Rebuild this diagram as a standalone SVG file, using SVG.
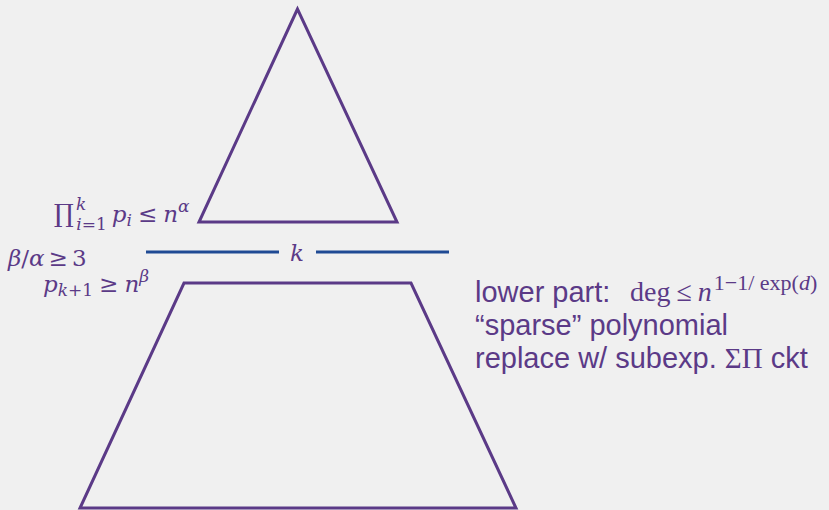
<svg xmlns="http://www.w3.org/2000/svg" width="829" height="510" viewBox="0 0 829 510">
<style>
.shape{fill:none;stroke:#5b3a87;stroke-width:3;stroke-linejoin:miter}
.sep{stroke:#1f4a94;stroke-width:3}
.m{font-family:"DejaVu Serif","Liberation Serif",serif;fill:#5b3a87;font-size:23px}
.r{font-family:"Liberation Serif","DejaVu Serif",serif;fill:#5b3a87}
.i{font-style:italic}
.t{font-family:"Liberation Sans",Arial,sans-serif;fill:#5b3a87;font-size:29px}
</style>
<rect width="829" height="510" fill="#f0f0f0"/>
<g id="upper">
<polygon class="shape" points="297.5,9 199,222 397,222"/>
</g>
<g id="lower">
<polygon class="shape" points="184,283 411,283 516,508 80,508"/>
</g>
<g id="connectors">
<line class="sep" x1="146" y1="252" x2="279" y2="252"/>
<line class="sep" x1="316" y1="252" x2="449" y2="252"/>
</g>
<g id="labels">
<text class="m" x="290" y="261"><tspan class="i">k</tspan></text>
<text class="m" x="54" y="222"><tspan font-size="25">∏</tspan><tspan class="i" font-size="17" dx="2" dy="-12">k</tspan><tspan class="i" font-size="17" dx="-10" dy="20">i</tspan><tspan font-size="17">=1</tspan><tspan class="i" dx="5" dy="-8">p</tspan><tspan class="i" font-size="17" dy="4">i</tspan><tspan dx="6" dy="-4">≤</tspan><tspan class="i" dx="6">n</tspan><tspan class="i" font-size="17" dy="-10">α</tspan></text>
<text class="m" x="8" y="266"><tspan class="i">β</tspan>/<tspan class="i">α</tspan><tspan dx="4">≥</tspan><tspan dx="4">3</tspan></text>
<text class="m" x="43" y="292"><tspan class="i">p</tspan><tspan class="i" font-size="17" dy="4">k</tspan><tspan font-size="17">+1</tspan><tspan dx="6" dy="-4">≥</tspan><tspan class="i" dx="6">n</tspan><tspan class="i" font-size="17" dy="-10">β</tspan></text>
<text class="t" x="475" y="302">lower part:</text>
<text class="r" x="630" y="301" font-size="28">deg<tspan dx="6">≤</tspan><tspan class="i" dx="6">n</tspan><tspan font-size="22" dx="2" dy="-11">1−1/ exp(</tspan><tspan class="i" font-size="22">d</tspan><tspan font-size="22">)</tspan></text>
<text class="t" x="475" y="335">“sparse” polynomial</text>
<text class="t" x="475" y="368">replace w/ subexp. <tspan class="r" font-size="29">ΣΠ</tspan> ckt</text>
</g>
</svg>
